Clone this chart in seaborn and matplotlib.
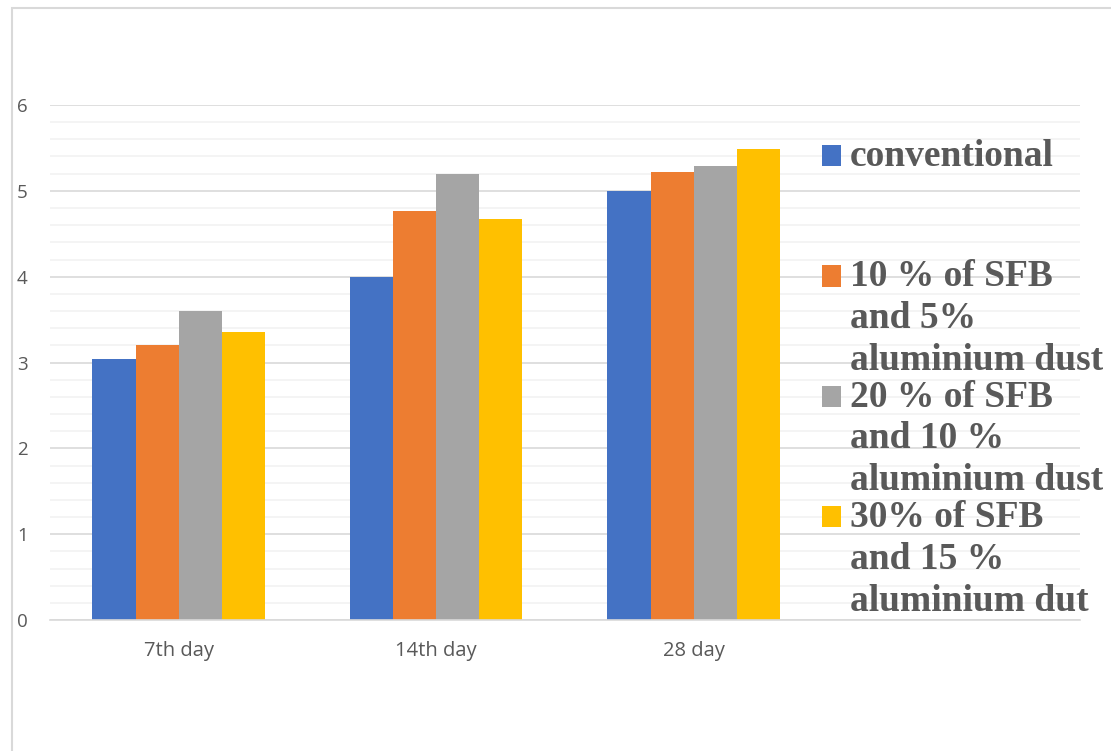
import numpy as np
import pandas as pd
import matplotlib
matplotlib.use('Agg')
import matplotlib.pyplot as plt
import seaborn as sns
from matplotlib.patches import Rectangle
from matplotlib.legend_handler import HandlerPatch
from matplotlib.ticker import MultipleLocator

# data
days = ['7th day', '14th day', '28 day']
series = ['conventional',
          '10 % of SFB\nand 5%\naluminium dust',
          '20 % of SFB\nand 10 %\naluminium dust',
          '30% of SFB\nand 15 %\naluminium dut']
conventional = [3.04, 4.0, 5.0]
sfb_10 = [3.2, 4.77, 5.22]
sfb_20 = [3.6, 5.2, 5.29]
sfb_30 = [3.36, 4.67, 5.49]
colors = ['#4472C4', '#ED7D31', '#A5A5A5', '#FFC000']

df = pd.DataFrame({
    'day': days * 4,
    'series': np.repeat(series, 3),
    'value': conventional + sfb_10 + sfb_20 + sfb_30,
})
# Excel chart leaves an empty fourth category slot
order = days + ['']

sns.set_style('white')
plt.rcParams['font.family'] = ['Open Sans', 'DejaVu Sans']

fig = plt.figure(figsize=(11.11, 7.51), dpi=100)
ax = fig.add_axes([0.045, 0.1744, 0.927, 0.6858])

sns.barplot(data=df, x='day', y='value', hue='series', order=order,
            hue_order=series, palette=colors, width=0.67, saturation=1,
            linewidth=0, ax=ax, legend=True)

ax.set_ylim(0, 6)
ax.set_xlim(-0.5, 3.5)
ax.yaxis.set_major_locator(MultipleLocator(1))
ax.yaxis.set_minor_locator(MultipleLocator(0.2))
ax.grid(which='minor', axis='y', color='#f2f2f2', linewidth=1.2)
ax.grid(which='major', axis='y', color='#d9d9d9', linewidth=1.2)
ax.set_axisbelow(True)
for s in ['top', 'right', 'left']:
    ax.spines[s].set_visible(False)
ax.spines['bottom'].set_color('#d9d9d9')
ax.spines['bottom'].set_linewidth(1.2)
ax.tick_params(axis='both', which='both', length=0, colors='#595959')
ax.tick_params(axis='y', pad=16, labelsize=13.5)
ax.tick_params(axis='x', pad=15, labelsize=14.5)
ax.set_xlabel('')
ax.set_ylabel('')


# legend marker on the first line of each label
class TopHandler(HandlerPatch):
    def __init__(self, shift, **kw):
        self.shift = shift
        super().__init__(**kw)

    def create_artists(self, legend, orig_handle, xdescent, ydescent,
                       width, height, fontsize, trans):
        p = Rectangle((-xdescent, -ydescent + self.shift * fontsize), width, height,
                      facecolor=orig_handle.get_facecolor(), edgecolor='none',
                      transform=trans)
        return [p]


handles, labels = ax.get_legend_handles_labels()
labels = [l if '\n' in l else l + '\n\n' for l in labels]
leg = ax.legend(handles, labels, loc='upper left', bbox_to_anchor=(0.740, 0.815),
                bbox_transform=fig.transFigure, frameon=False,
                prop={'family': 'Liberation Serif', 'weight': 'bold', 'size': 27},
                handlelength=0.5, handleheight=0.5, handletextpad=0.24,
                labelspacing=0.05, borderpad=0, borderaxespad=0,
                handler_map={Rectangle: TopHandler(1.14)})
for t in leg.get_texts():
    t.set_color('#595959')
    t.set_linespacing(1.25)

# chart border (left and top visible)
fig.add_artist(Rectangle((12 / 1111, -0.1), 1.2, 1 - 8 / 751 + 0.1,
                         transform=fig.transFigure, fill=False,
                         edgecolor='#d9d9d9', linewidth=1.5))

fig.savefig('out.png', dpi=100)
